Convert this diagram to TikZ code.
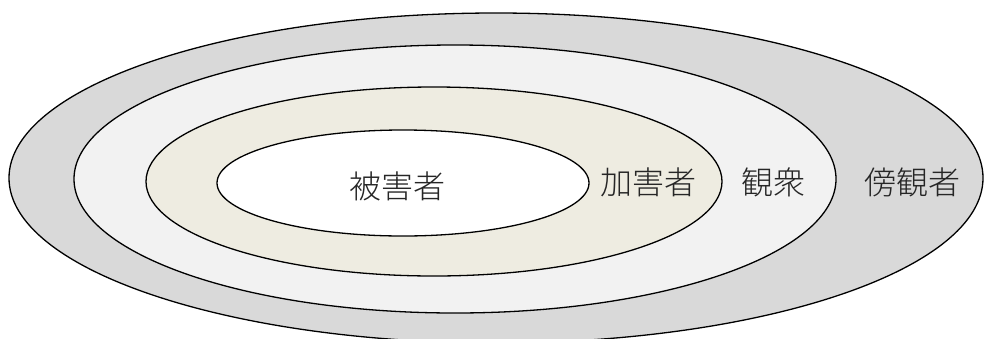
\documentclass[tikz,border=0pt]{standalone}
\usepackage{fontspec}
\newfontfamily\jpfont{Noto Sans CJK JP Light}
\definecolor{ringA}{HTML}{D9D9D9}
\definecolor{ringB}{HTML}{F2F2F2}
\definecolor{ringC}{HTML}{EEECE1}
\tikzset{
  ring/.style={draw=black, line width=1.3pt},
  lbl/.style={font=\jpfont\fontsize{32}{32}\selectfont, inner sep=0pt, text=black!85}
}
\begin{document}
\begin{tikzpicture}[x=1pt,y=-1pt]
\useasboundingbox (0,0) rectangle (985,338);
\clip (0,0) rectangle (985,338);
\fill[white] (0,0) rectangle (985,338);
\path[ring, fill=ringA] (496,178) ellipse [x radius=487, y radius=165];
\path[ring, fill=ringB] (455,179) ellipse [x radius=381, y radius=134];
\path[ring, fill=ringC] (434,181.5) ellipse [x radius=288, y radius=94.5];
\path[ring, fill=white] (403,183) ellipse [x radius=186, y radius=53];
\node[lbl] (victim) at (397,186) {被害者};
\node[lbl] (bully) at (648,182) {加害者};
\node[lbl] (audience) at (773,182) {観衆};
\node[lbl] (bystander) at (912,182) {傍観者};
\end{tikzpicture}
\end{document}
